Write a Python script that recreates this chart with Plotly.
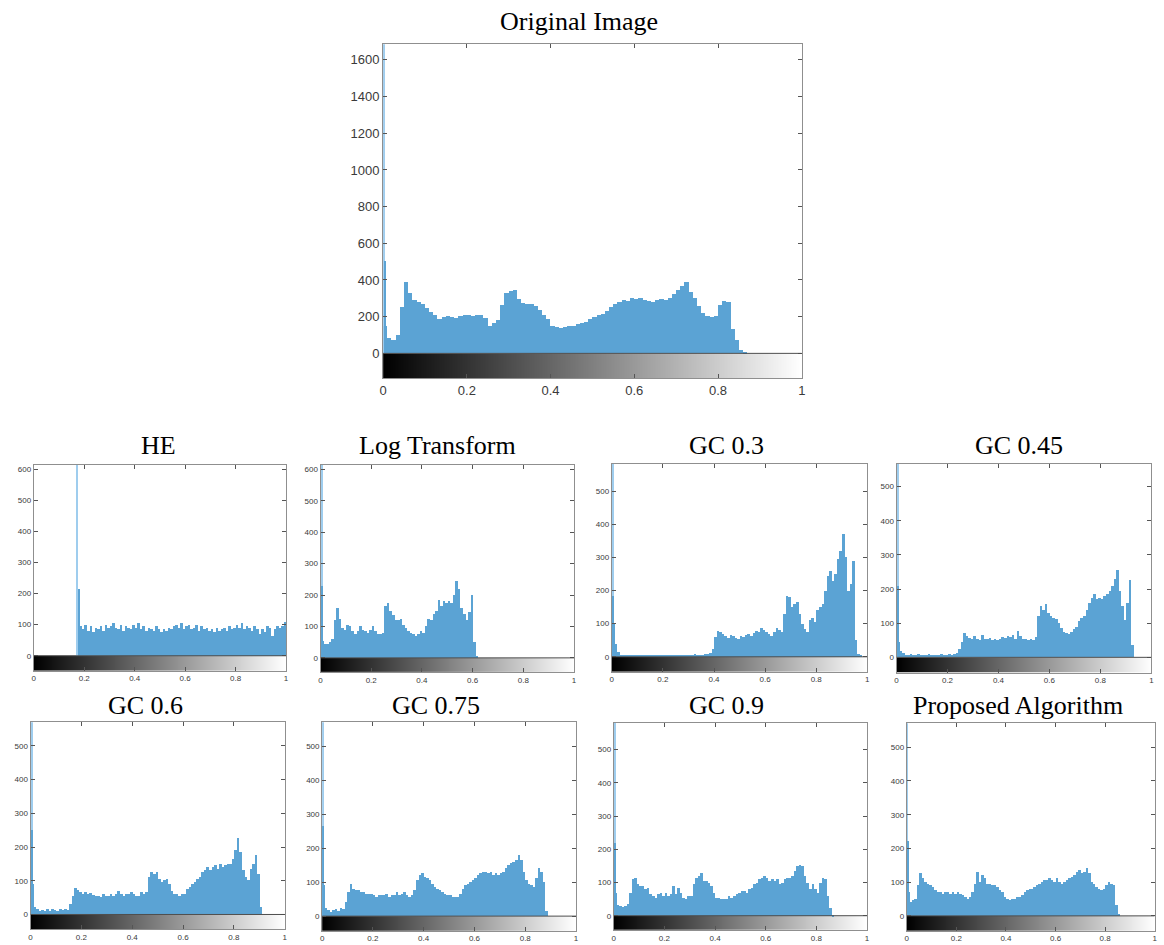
import numpy as np
import plotly.graph_objects as go

# ---------------- data (histogram counts, 100 bins of width 0.01 on [0, 1]) ----------------
tick_x_vals = [0, 0.2, 0.4, 0.6, 0.8, 1]
tick_x_text = ["0", "0.2", "0.4", "0.6", "0.8", "1"]

orig_counts = [150, 80, 70, 100, 250, 385, 330, 290, 280, 270,
               245, 225, 205, 185, 195, 200, 195, 190, 200, 205,
               210, 200, 210, 205, 190, 150, 165, 180, 260, 330,
               340, 345, 295, 275, 265, 265, 255, 235, 210, 185,
               150, 140, 135, 140, 145, 150, 160, 165, 170, 185,
               195, 205, 215, 230, 250, 270, 280, 290, 285, 300,
               295, 300, 290, 285, 280, 290, 295, 290, 300, 320,
               345, 365, 390, 335, 300, 255, 220, 200, 195, 200,
               260, 285, 280, 130, 70, 15, 3, 0, 0, 0,
               0, 0, 0, 0, 0, 0, 0, 0, 0, 0]
orig_spike_x = [0.002, 0.005]
orig_spike_y = [1700, 500]

he_counts = [0] * 17 + [105,
             95, 85, 100, 80, 95, 75, 90, 85, 95, 80, 100, 90,
             95, 105, 90, 85, 100, 80, 95, 90, 85, 100,
             90, 105, 85, 95, 80, 90, 85, 80, 95, 85,
             75, 85, 80, 90, 85, 95, 100, 90, 105, 85,
             95, 100, 85, 90, 100, 80, 95, 85, 90, 80,
             85, 75, 90, 80, 85, 90, 80, 95, 85, 90,
             100, 90, 105, 85, 95, 90, 80, 95, 85, 70,
             85, 75, 95, 90, 65, 85, 95, 90, 95, 110]
he_spike_x = [0.172, 0.177]
he_spike_y = [650, 215]

log_counts = [55, 45, 45, 50, 60, 120, 160, 125, 95, 90,
              105, 100, 85, 75, 85, 100, 90, 85, 80, 90,
              100, 85, 75, 75, 80, 165, 175, 150, 135, 120,
              120, 125, 105, 95, 85, 80, 75, 70, 75, 85,
              80, 100, 125, 120, 140, 150, 185, 165, 180, 175,
              180, 175, 200, 245, 220, 160, 140, 120, 145, 200,
              50, 5, 0, 0, 0, 0, 0, 0, 0, 0,
              0, 0, 0, 0, 0, 0, 0, 0, 0, 0,
              0, 0, 0, 0, 0, 0, 0, 0, 0, 0,
              0, 0, 0, 0, 0, 0, 0, 0, 0, 0]
log_spike_x = [0.002, 0.005]
log_spike_y = [640, 228]

gc03_counts = [100, 40, 15, 6,
               5, 4, 6, 3, 5, 4, 6, 5, 3, 4, 5, 6, 4, 3, 5, 4, 6, 5, 4, 3,
               5, 6, 4, 5, 3, 6, 5, 4, 7, 5, 6, 5, 8,
               8, 12, 25,
               60, 78, 75, 68, 62, 58, 65, 62, 58, 55,
               62, 60, 66, 70, 64, 72, 78, 75, 88, 80,
               75, 70, 62, 75, 88, 80, 75, 130, 185, 180,
               150, 160, 165, 130, 100, 85, 75, 110, 118, 105,
               140, 150, 160, 200, 245, 260, 230, 250, 295, 320,
               370, 300, 200, 220, 290, 50, 8, 3, 0, 0]
gc03_spike_x = [0.002, 0.005]
gc03_spike_y = [600, 185]

gc045_counts = [45, 20, 12, 8,
                7, 9, 6, 8, 10, 7, 6, 8, 9, 7, 6, 8, 7, 9, 8, 7, 9, 8, 10,
                14, 25, 45, 70,
                62, 58, 55, 62, 55, 50, 65, 55, 55, 58, 52, 55, 50,
                55, 60, 58, 62, 60, 65, 55, 78, 62, 55,
                55, 50, 55, 52, 60, 120, 150, 140, 155, 130,
                120, 115, 112, 100, 85, 75, 70, 68, 75, 82,
                90, 105, 115, 120, 140, 160, 175, 185, 170, 175,
                170, 180, 185, 195, 210, 230, 255, 195, 150, 110,
                160, 225, 35, 0, 0, 0, 0, 0, 0, 0]
gc045_spike_x = [0.002, 0.005]
gc045_spike_y = [590, 210]

gc06_counts = [35, 20, 15,
               10, 12, 8, 14, 10, 15, 12, 10, 16, 12, 14, 13,
               30, 55, 78, 72, 65,
               60, 65, 60, 62, 58, 55, 55, 50, 60, 55,
               55, 60, 55, 60, 70, 60, 55, 60, 60, 65,
               60, 55, 55, 65, 60, 65, 110, 125, 120, 125,
               105, 95, 100, 105, 90, 70, 60, 60, 55, 60,
               60, 75, 80, 90, 95, 105, 110, 125, 130, 140,
               130, 140, 145, 135, 150, 140, 145, 150, 150, 165,
               190, 225, 185, 130, 110, 100, 135, 150, 175, 120,
               20, 0, 0, 0, 0, 0, 0, 0, 0, 0]
gc06_spike_x = [0.002, 0.005, 0.008]
gc06_spike_y = [600, 250, 90]

gc075_counts = [30, 22, 18, 12, 18, 20, 15, 22, 20, 40,
                70, 95, 80, 75, 75, 70, 70, 65, 65, 65,
                60, 55, 60, 60, 60, 65, 55, 60, 60, 70,
                60, 65, 70, 60, 55, 60, 75, 105, 120, 125,
                115, 110, 105, 95, 85, 80, 75, 70, 65, 60,
                60, 55, 55, 55, 65, 80, 90, 95, 100, 105,
                110, 120, 125, 130, 130, 125, 130, 120, 125, 120,
                125, 130, 140, 150, 155, 160, 165, 180, 165, 130,
                105, 95, 90, 85, 110, 140, 130, 100, 15, 0,
                0, 0, 0, 0, 0, 0, 0, 0, 0, 0]
gc075_spike_x = [0.002, 0.005, 0.008]
gc075_spike_y = [600, 265, 90]

gc09_counts = [38, 32, 30, 28, 30, 35, 70, 110, 115, 95,
               90, 90, 80, 85, 65, 60, 55, 65, 70, 60,
               70, 60, 65, 90, 65, 85, 70, 55, 50, 60,
               60, 95, 115, 120, 130, 105, 105, 100, 90, 70,
               55, 55, 50, 50, 50, 60, 55, 60, 65, 70,
               75, 75, 70, 80, 85, 95, 100, 110, 115, 120,
               115, 105, 110, 105, 110, 95, 100, 110, 115, 115,
               120, 135, 150, 155, 150, 120, 100, 80, 95, 80,
               70, 100, 115, 110, 60, 25, 3, 0, 0, 0,
               0, 0, 0, 0, 0, 0, 0, 0, 0, 0]
gc09_spike_x = [0.002, 0.005, 0.008]
gc09_spike_y = [600, 220, 70]

prop_counts = [55, 40, 45, 50, 90, 125, 110, 100, 95, 90,
               85, 75, 70, 70, 65, 70, 70, 65, 70, 65,
               70, 65, 60, 55, 50, 55, 70, 95, 130, 100,
               120, 110, 95, 95, 90, 90, 85, 75, 70, 55,
               50, 45, 50, 50, 55, 55, 60, 70, 75, 80,
               80, 85, 90, 95, 100, 105, 105, 110, 105, 100,
               110, 100, 95, 100, 105, 110, 115, 120, 130, 135,
               125, 130, 140, 125, 100, 95, 85, 80, 75, 80,
               90, 100, 95, 90, 30, 5, 0, 0, 0, 0,
               0, 0, 0, 0, 0, 0, 0, 0, 0, 0]
prop_spike_x = [0.002, 0.005, 0.008]
prop_spike_y = [600, 220, 70]

titles = ["Original Image", "HE", "Log Transform", "GC 0.3", "GC 0.45",
          "GC 0.6", "GC 0.75", "GC 0.9", "Proposed Algorithm"]
y_ticks_orig = [0, 200, 400, 600, 800, 1000, 1200, 1400, 1600]
y_ticks_600 = [0, 100, 200, 300, 400, 500, 600]
y_ticks_500 = [0, 100, 200, 300, 400, 500]

# ---------------- layout geometry (pixels) ----------------
W, H = 1164, 945
BLUE = "#5ba3d4"
SPIKE_LIGHT = "#9fcdee"
AXIS_GRAY = "#8f8f8f"
TICK_FONT = "Liberation Sans, Arial, sans-serif"
TITLE_FONT = "Liberation Serif, Times New Roman, serif"

panels = [
    dict(counts=orig_counts, sx=orig_spike_x, sy=orig_spike_y, box=(381.7, 803.3, 44.3, 378.3),
         yr=(-136, 1685), yt=y_ticks_orig, fs=13, title_at=(579, 21)),
    dict(counts=he_counts, sx=he_spike_x, sy=he_spike_y, box=(30, 284, 465, 670.7),
         yr=(-48, 613), yt=y_ticks_600, fs=8, title_at=(156, 445)),
    dict(counts=log_counts, sx=log_spike_x, sy=log_spike_y, box=(318.7, 574, 465, 672),
         yr=(-45, 614), yt=y_ticks_600, fs=8, title_at=(436, 445)),
    dict(counts=gc03_counts, sx=gc03_spike_x, sy=gc03_spike_y, box=(612, 869.3, 464, 671.7),
         yr=(-45, 582), yt=y_ticks_500, fs=8, title_at=(728, 445)),
    dict(counts=gc045_counts, sx=gc045_spike_x, sy=gc045_spike_y, box=(898.7, 1155.3, 464, 672.7),
         yr=(-45, 566), yt=y_ticks_500, fs=8, title_at=(1022, 445)),
    dict(counts=gc06_counts, sx=gc06_spike_x, sy=gc06_spike_y, box=(26.7, 282.7, 722.3, 929.3),
         yr=(-44, 570), yt=y_ticks_500, fs=8, title_at=(142, 705)),
    dict(counts=gc075_counts, sx=gc075_spike_x, sy=gc075_spike_y, box=(320.3, 576, 722.3, 930.7),
         yr=(-43, 571), yt=y_ticks_500, fs=8, title_at=(435, 705)),
    dict(counts=gc09_counts, sx=gc09_spike_x, sy=gc09_spike_y, box=(614, 869, 722.7, 930),
         yr=(-43, 581), yt=y_ticks_500, fs=8, title_at=(728, 705)),
    dict(counts=prop_counts, sx=prop_spike_x, sy=prop_spike_y, box=(909, 1158.7, 723.3, 930.7),
         yr=(-44, 571), yt=y_ticks_500, fs=8, title_at=(1021, 705)),
]

n_bins = 100
bin_centers = (np.arange(n_bins) + 0.5) / n_bins
grad_cols = 256
grad_edges = np.linspace(0, 1, grad_cols + 1)
grad_vals = (np.arange(grad_cols) + 0.5) / grad_cols

fig = go.Figure()
layout_axes = {}
shapes = []
annotations = []

for i, p in enumerate(panels):
    k = "" if i == 0 else str(i + 1)
    xr, yr_ = "x" + k, "y" + k
    l, r, t, b = p["box"]

    # grayscale colorbar under the histogram
    fig.add_trace(go.Heatmap(
        z=[grad_vals], x=grad_edges, y=[p["yr"][0], 0],
        colorscale=[[0, "black"], [1, "white"]], zmin=0, zmax=1,
        showscale=False, hoverinfo="skip", xaxis=xr, yaxis=yr_))
    # histogram bars
    fig.add_trace(go.Bar(
        x=bin_centers, y=p["counts"], width=1.0 / n_bins,
        marker=dict(color=BLUE, line=dict(width=0)),
        xaxis=xr, yaxis=yr_, showlegend=False))
    # thin spikes (first spike lighter, as in the reference)
    spike_colors = [SPIKE_LIGHT] + [BLUE] * (len(p["sx"]) - 1)
    fig.add_trace(go.Bar(
        x=p["sx"], y=p["sy"], width=0.004,
        marker=dict(color=spike_colors, line=dict(width=0)),
        xaxis=xr, yaxis=yr_, showlegend=False))

    common = dict(ticks="inside", ticklen=4, tickwidth=1, tickcolor="#555555",
                  showline=True, linecolor=AXIS_GRAY, linewidth=1, mirror="ticks",
                  showgrid=False, zeroline=False,
                  tickfont=dict(family=TICK_FONT, size=p["fs"], color="#3a3a3a"),
                  fixedrange=True)
    layout_axes["xaxis" + k] = dict(domain=[l / W, r / W], range=[0, 1],
                                    tickvals=tick_x_vals, ticktext=tick_x_text,
                                    anchor=yr_, **common)
    layout_axes["yaxis" + k] = dict(domain=[1 - b / H, 1 - t / H], range=list(p["yr"]),
                                    tickvals=p["yt"], anchor=xr, **common)

    shapes.append(dict(type="line", xref=xr, yref=yr_, x0=0, x1=1, y0=0, y1=0,
                       line=dict(color="#4d4d4d", width=1), layer="above"))

    tx, ty = p["title_at"]
    annotations.append(dict(text=titles[i], xref="paper", yref="paper",
                            x=tx / W, y=1 - ty / H, xanchor="center", yanchor="middle",
                            showarrow=False,
                            font=dict(family=TITLE_FONT, size=26, color="black")))

fig.update_layout(
    width=W, height=H, autosize=False,
    margin=dict(l=0, r=0, t=0, b=0),
    paper_bgcolor="white", plot_bgcolor="white",
    barmode="overlay", bargap=0, showlegend=False,
    shapes=shapes, annotations=annotations,
    **layout_axes)

fig.write_html("out.html",
               config={"displayModeBar": False},
               post_script="document.body.style.margin='0px';document.body.style.padding='0px';")
